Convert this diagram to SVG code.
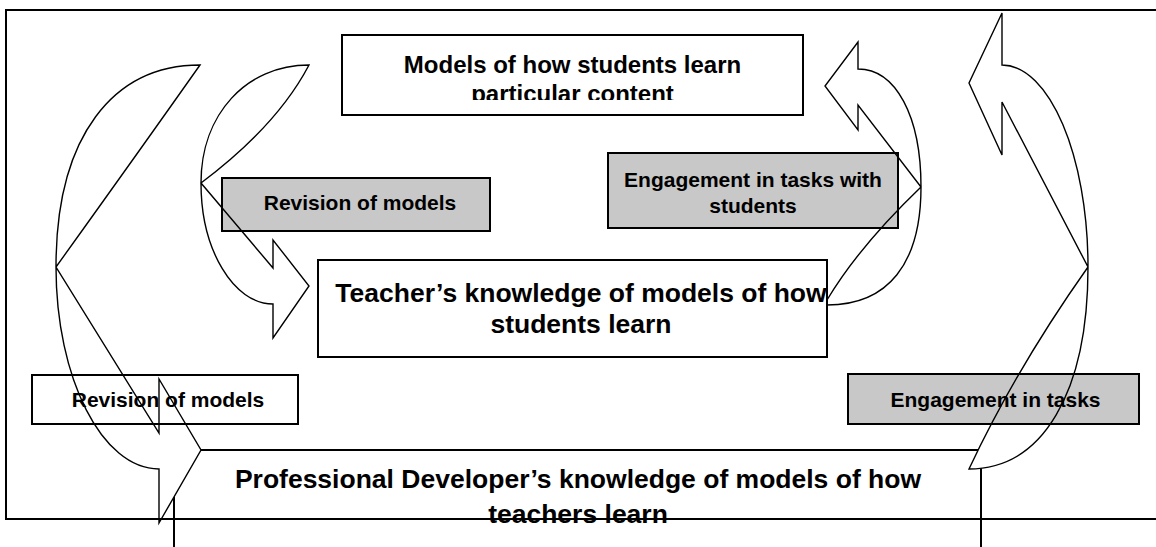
<svg xmlns="http://www.w3.org/2000/svg" xmlns:xlink="http://www.w3.org/1999/xlink" width="1156" height="547" viewBox="0 0 1156 547">
<style>
.box{fill:#fff;stroke:#000;stroke-width:2}
.gbox{fill:#c8c8c8;stroke:#000;stroke-width:2}
.t{font-family:"Liberation Sans",Arial,sans-serif;font-weight:bold;fill:#000;text-anchor:middle}
.t21{font-size:21px}
.t24{font-size:24px}
.t26{font-size:26.5px}
.afill{fill:#fff;stroke:none}
.aline{fill:none;stroke:#000;stroke-width:1.4;stroke-linejoin:miter}
</style>
<defs>
<clipPath id="clipModels"><rect x="342" y="35" width="461" height="65"/></clipPath>
<path id="arrowA" d="M200,65 C113.6,65 56,135.7 56,267 C56,378 102,469 159,469 L159,523 L201,450 L159,379 L159,433 L56,267 Q140,150 200,65 Z"/>
<path id="arrowB" d="M309,65 C246,65 201,114.6 201,183 C201,249.6 233.4,304 273,304 L273,338 L309,286 L273,240 L273,268 L201,183 Q277,126 309,65 Z"/>
<path id="arrowC" d="M858,42 L825,86 L858,130 L858,105 L921,187 Q859,246.5 827,300 L827,305 C888.1,305 921,263.7 921,187 C921,116.2 895.8,69 858,69 Z"/>
<path id="arrowD" d="M1002,13 L969,83 L1002,155 L1002,102 L1088,267 Q1016.5,368 969,469 C1042.8,469 1088,392.2 1088,267 C1088,155.9 1049.3,65 1002,65 Z"/>
</defs>
<rect x="0" y="0" width="1156" height="547" fill="#fff"/>

<g id="node-professional">
<rect class="box" x="174" y="450" width="807" height="110"/>
<text class="t t26" x="578" y="488">Professional Developer’s knowledge of models of how</text>
<text class="t t26" x="578" y="523">teachers learn</text>
</g>

<g id="connector-fills">
<use xlink:href="#arrowA" class="afill"/>
<use xlink:href="#arrowB" class="afill"/>
<use xlink:href="#arrowC" class="afill"/>
<use xlink:href="#arrowD" class="afill"/>
</g>

<g id="node-models">
<rect class="box" x="342" y="35" width="461" height="80"/>
<text class="t t24" x="572.5" y="73">Models of how students learn</text>
<text class="t t24" x="572.5" y="102" clip-path="url(#clipModels)">particular content</text>
</g>

<g id="node-revision-upper">
<rect class="gbox" x="222" y="178" width="268" height="53"/>
<text class="t t21" x="360" y="210">Revision of models</text>
</g>

<g id="node-engagement-upper">
<rect class="gbox" x="608" y="153" width="290" height="75"/>
<text class="t t21" x="753" y="187">Engagement in tasks with</text>
<text class="t t21" x="753" y="213">students</text>
</g>

<g id="node-teacher">
<rect class="box" x="318" y="260" width="509" height="97"/>
<text class="t t26" x="581" y="302">Teacher’s knowledge of models of how</text>
<text class="t t26" x="581" y="333">students learn</text>
</g>

<g id="node-revision-lower">
<rect class="box" x="32" y="375" width="266" height="49"/>
<text class="t t21" x="168" y="407">Revision of models</text>
</g>

<g id="node-engagement-lower">
<rect class="gbox" x="848" y="374" width="291" height="50"/>
<text class="t t21" x="995.5" y="407">Engagement in tasks</text>
</g>

<g id="connectors">
<use xlink:href="#arrowA" class="aline"/>
<use xlink:href="#arrowB" class="aline"/>
<use xlink:href="#arrowC" class="aline"/>
<use xlink:href="#arrowD" class="aline"/>
</g>

<g id="frame">
<rect x="6" y="10" width="1160" height="509" fill="none" stroke="#000" stroke-width="2"/>
</g>
</svg>
